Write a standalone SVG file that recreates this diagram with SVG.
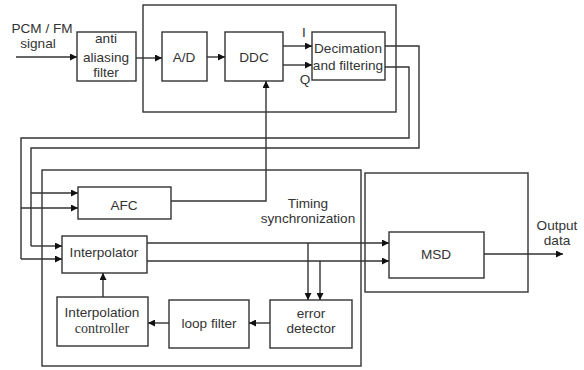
<svg xmlns="http://www.w3.org/2000/svg" width="584" height="370" viewBox="0 0 584 370">
<style>
.b{fill:#fff;stroke:#333;stroke-width:1.4}
.g{fill:none;stroke:#333;stroke-width:1.4}
.l{fill:none;stroke:#333;stroke-width:1.4}
.a{marker-end:url(#ah)}
text{font-family:"Liberation Sans",Arial,sans-serif;font-size:13.6px;fill:#333;text-anchor:middle}
.s{font-family:"Liberation Serif","Times New Roman",serif;font-size:14px}
</style>
<defs>
<marker id="ah" viewBox="0 0 10 10" refX="10" refY="5" markerWidth="9" markerHeight="7" markerUnits="userSpaceOnUse" orient="auto">
<path d="M0,0L10,5L0,10z" fill="#111"/>
</marker>
</defs>
<rect width="584" height="370" fill="#fff"/>
<g id="frontend"><rect class="g" x="143" y="5" width="253" height="107"/></g>
<g id="timing"><rect class="g" x="42" y="170" width="319" height="196"/>
<text x="308" y="208">Timing</text><text x="308" y="223">synchronization</text></g>
<g id="msdbox"><rect class="g" x="365" y="173" width="163" height="119"/></g>
<g id="input"><text x="42" y="33">PCM / FM</text><text x="38" y="48">signal</text></g>
<g id="aaf"><rect class="b" x="77" y="32" width="59" height="49"/>
<text x="106" y="43">anti</text><text x="106" y="62">aliasing</text><text x="106" y="77">filter</text></g>
<g id="ad"><rect class="b" x="162" y="32" width="45" height="49"/><text x="184" y="62">A/D</text></g>
<g id="ddc"><rect class="b" x="225" y="32" width="58" height="49"/><text x="254" y="62">DDC</text></g>
<g id="dec"><rect class="b" x="312" y="32" width="73" height="48"/>
<text x="348" y="53">Decimation</text><text x="348" y="70">and filtering</text></g>
<g id="afc"><rect class="b" x="78" y="187" width="93" height="32"/><text x="124" y="210">AFC</text></g>
<g id="interp"><rect class="b" x="62" y="236" width="85" height="37"/><text x="104" y="257">Interpolator</text></g>
<g id="ctrl"><rect class="b" x="57" y="297" width="91" height="49"/>
<text x="102" y="317">Interpolation</text><text class="s" x="102" y="333">controller</text></g>
<g id="loop"><rect class="b" x="169" y="300" width="80" height="48"/><text x="209" y="328">loop filter</text></g>
<g id="err"><rect class="b" x="270" y="300" width="82" height="48"/>
<text x="311" y="318">error</text><text x="311" y="333">detector</text></g>
<g id="msd"><rect class="b" x="389" y="232" width="95" height="46"/><text x="436" y="259">MSD</text></g>
<g id="out"><text x="557" y="230">Output</text><text x="557" y="245">data</text></g>
<g id="connectors">
<path class="l a" d="M16,57H77"/>
<path class="l a" d="M136,58H162"/>
<path class="l a" d="M207,57H225"/>
<text x="304" y="37">I</text>
<text x="305" y="84">Q</text>
<path class="l a" d="M283,46H312"/>
<path class="l a" d="M283,65H312"/>
<path class="l" d="M385,46H419V148H31V246"/>
<path class="l" d="M385,67H409V138H21V259"/>
<path class="l a" d="M31,193H78"/>
<path class="l a" d="M21,208H78"/>
<path class="l a" d="M31,246H62"/>
<path class="l a" d="M21,259H62"/>
<path class="l a" d="M171,201H266V81"/>
<path class="l a" d="M147,243H389"/>
<path class="l a" d="M147,261H389"/>
<path class="l a" d="M308,243V300"/>
<path class="l a" d="M320,261V300"/>
<path class="l a" d="M484,254H563"/>
<path class="l a" d="M270,323H249"/>
<path class="l a" d="M169,323H148"/>
<path class="l a" d="M103,297V273"/>
</g>
</svg>
